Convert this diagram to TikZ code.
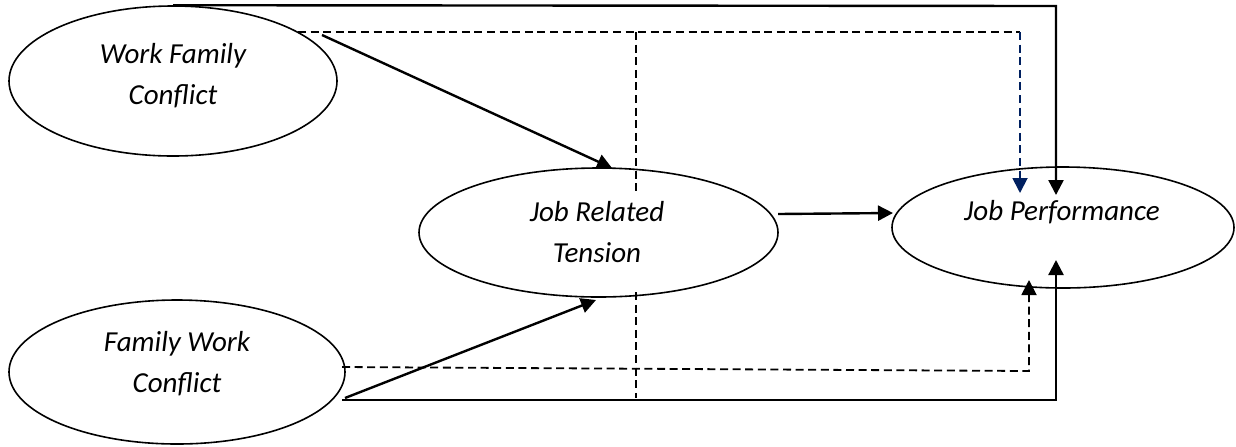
\documentclass[tikz,border=0pt]{standalone}
\usepackage{fontspec}
\setmainfont{Carlito}
\usetikzlibrary{arrows.meta,shapes.geometric}
\definecolor{navy}{RGB}{0,32,96}
\begin{document}
\begin{tikzpicture}[x=0.5pt,y=-0.5pt,
  ell/.style={draw, ellipse, line width=0.8pt, inner sep=0pt},
  lbl/.style={align=center, font=\fontsize{14.5}{20.5}\selectfont\itshape, inner sep=0pt},
  tip/.style={-{Triangle[width=7.5pt,length=7.5pt]}},
  solidln/.style={line width=1.2pt},
  dashln/.style={line width=0.9pt, dash pattern=on 4pt off 2.3pt}]
\useasboundingbox (0,0) rectangle (1236,446);
% ellipses
\node[ell, minimum width=164pt, minimum height=75pt] (wfc) at (173,81) {};
\node[ell, minimum width=168pt, minimum height=72pt] (fwc) at (177,372) {};
\node[ell, minimum width=179.5pt, minimum height=64.5pt] (jrt) at (598.5,232.5) {};
\node[ell, minimum width=171pt, minimum height=60.5pt] (jp) at (1063,227.5) {};
% labels
\node[lbl] (wfcL) at (173,76) {Work Family\\Conflict};
\node[lbl] (fwcL) at (177,364) {Family Work\\Conflict};
\node[lbl] (jrtL) at (597,232) {Job Related\\Tension};
\node[lbl] (jpL) at (1062,212) {Job Performance};
% coordinates
\coordinate (topR) at (1056,6);
\coordinate (jpT1) at (1056,195);
\coordinate (d1s) at (298,32);
\coordinate (d1c) at (1020,32);
\coordinate (jpT2) at (1020,193);
\coordinate (vTop) at (636,32);
\coordinate (vGapA) at (636,192);
\coordinate (vGapB) at (636,292);
\coordinate (vBot) at (636,398);
\coordinate (a1s) at (322,35);
\coordinate (a1e) at (612,168);
\coordinate (a2s) at (345,398);
\coordinate (a2e) at (596,300);
\coordinate (a3s) at (778,214);
\coordinate (a3e) at (893,213);
\coordinate (d2s) at (342,367);
\coordinate (d2c) at (1029,371);
\coordinate (jpB2) at (1029,280);
\coordinate (b1s) at (342,400);
\coordinate (b1c) at (1056,400);
\coordinate (jpB1) at (1056,260);
% connectors
\draw[solidln, tip] (wfc.north) -- (topR) -- (jpT1);
\draw[dashln] (d1s) -- (d1c);
\draw[dashln, navy, tip] (d1c) -- (jpT2);
\draw[dashln] (vTop) -- (vGapA);
\draw[dashln] (vGapB) -- (vBot);
\draw[solidln, tip] (a1s) -- (a1e);
\draw[solidln, tip] (a2s) -- (a2e);
\draw[solidln, tip] (a3s) -- (a3e);
\draw[dashln, tip] (d2s) -- (d2c) -- (jpB2);
\draw[solidln, tip] (b1s) -- (b1c) -- (jpB1);
\end{tikzpicture}
\end{document}
